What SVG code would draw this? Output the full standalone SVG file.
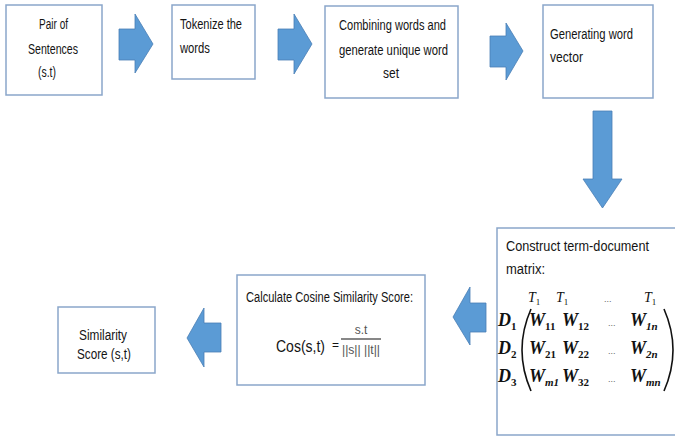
<svg xmlns="http://www.w3.org/2000/svg" width="675" height="437" viewBox="0 0 675 437">
<style>
.box{fill:#fff;stroke:#8AA6CA;stroke-width:1.5}
.t{font-family:"Liberation Sans",Arial,sans-serif;font-size:14px;fill:#141414}
.arr{fill:#5B9BD5;stroke:#4A7FB5;stroke-width:0.8}
.mw{font-family:"Liberation Serif","Times New Roman",serif;font-style:italic;font-weight:bold;font-size:18px;fill:#111}
.sub{font-size:11px;font-style:normal}
.subi{font-size:11px}
.th{font-family:"Liberation Serif","Times New Roman",serif;font-style:italic;font-size:14px;fill:#111}
.ts{font-size:9px;font-style:normal}
.dots{font-family:"Liberation Sans",Arial,sans-serif;font-size:9px;fill:#666}
.frac{font-family:"Liberation Sans",Arial,sans-serif;font-size:12px;fill:#555}
.paren{fill:none;stroke:#111;stroke-width:1.6}
</style>
<rect width="675" height="437" fill="#fff"/>
<g id="node-pair">
<rect class="box" x="6" y="5" width="96" height="90"/>
<text class="t" x="39" y="29" textLength="29" lengthAdjust="spacingAndGlyphs">Pair of</text>
<text class="t" x="28" y="54" textLength="50" lengthAdjust="spacingAndGlyphs">Sentences</text>
<text class="t" x="38" y="77" textLength="18" lengthAdjust="spacingAndGlyphs">(s.t)</text>
</g>
<g id="node-tokenize">
<rect class="box" x="172" y="5" width="83" height="74"/>
<text class="t" x="180" y="29" textLength="62" lengthAdjust="spacingAndGlyphs">Tokenize the</text>
<text class="t" x="180" y="53" textLength="30" lengthAdjust="spacingAndGlyphs">words</text>
</g>
<g id="node-combine">
<rect class="box" x="325" y="6" width="133" height="92"/>
<text class="t" x="339" y="30" textLength="107" lengthAdjust="spacingAndGlyphs">Combining words and</text>
<text class="t" x="339" y="55" textLength="109" lengthAdjust="spacingAndGlyphs">generate unique word</text>
<text class="t" x="383" y="78" textLength="16" lengthAdjust="spacingAndGlyphs">set</text>
</g>
<g id="node-vector">
<rect class="box" x="543" y="5" width="110" height="93"/>
<text class="t" x="550" y="39" textLength="83" lengthAdjust="spacingAndGlyphs">Generating word</text>
<text class="t" x="550" y="62" textLength="33" lengthAdjust="spacingAndGlyphs">vector</text>
</g>
<g id="node-matrix">
<rect class="box" x="497" y="228" width="190" height="207"/>
<text class="t" x="506" y="251" textLength="143" lengthAdjust="spacingAndGlyphs">Construct term-document</text>
<text class="t" x="506" y="274" textLength="39" lengthAdjust="spacingAndGlyphs">matrix:</text>
<text class="th" x="528" y="302">T<tspan class="ts" dy="3">1</tspan></text>
<text class="th" x="556" y="302">T<tspan class="ts" dy="3">1</tspan></text>
<text class="dots" x="604" y="302">...</text>
<text class="th" x="644" y="302">T<tspan class="ts" dy="3">1</tspan></text>
<text class="mw" x="498" y="326">D<tspan class="sub" dy="4">1</tspan></text>
<text class="mw" x="498" y="354">D<tspan class="sub" dy="4">2</tspan></text>
<text class="mw" x="498" y="382">D<tspan class="sub" dy="4">3</tspan></text>
<path class="paren" d="M531,309 Q513,350 531,391"/>
<path class="paren" d="M664,309 Q682,350 664,391"/>
<text class="mw" x="529" y="326">W<tspan class="sub" dy="4">11</tspan></text>
<text class="mw" x="562" y="326">W<tspan class="sub" dy="4">12</tspan></text>
<text class="dots" x="608" y="326">...</text>
<text class="mw" x="630" y="326">W<tspan class="subi" dy="4">1n</tspan></text>
<text class="mw" x="529" y="354">W<tspan class="sub" dy="4">21</tspan></text>
<text class="mw" x="562" y="354">W<tspan class="sub" dy="4">22</tspan></text>
<text class="dots" x="608" y="354">...</text>
<text class="mw" x="630" y="354">W<tspan class="subi" dy="4">2n</tspan></text>
<text class="mw" x="529" y="382">W<tspan class="subi" dy="4">m1</tspan></text>
<text class="mw" x="562" y="382">W<tspan class="sub" dy="4">32</tspan></text>
<text class="dots" x="608" y="382">...</text>
<text class="mw" x="630" y="382">W<tspan class="subi" dy="4">mn</tspan></text>
</g>
<g id="node-cosine">
<rect class="box" x="237" y="275" width="188" height="110"/>
<text class="t" x="246" y="302" textLength="167" lengthAdjust="spacingAndGlyphs">Calculate Cosine Similarity Score:</text>
<text class="t" x="276" y="352" style="font-size:16px" textLength="49" lengthAdjust="spacingAndGlyphs">Cos(s,t)</text>
<text class="t" x="332" y="349" style="font-size:12px">=</text>
<text class="frac" x="361" y="334" text-anchor="middle">s.t</text>
<line x1="341" y1="339" x2="381" y2="339" stroke="#111" stroke-width="1.2"/>
<text class="frac" x="361" y="354" text-anchor="middle" textLength="38" lengthAdjust="spacingAndGlyphs">||s|| ||t||</text>
</g>
<g id="node-score">
<rect class="box" x="58" y="307" width="97" height="66"/>
<text class="t" x="79" y="340" textLength="48" lengthAdjust="spacingAndGlyphs">Similarity</text>
<text class="t" x="77" y="359" textLength="54" lengthAdjust="spacingAndGlyphs">Score (s,t)</text>
</g>
<g id="connectors">
<polygon class="arr" points="119,29 135,29 135,14 153,44 135,73 135,60 119,60"/>
<polygon class="arr" points="278,29 294,29 294,14 312,44 294,74 294,60 278,60"/>
<polygon class="arr" points="490,36 506,36 506,23 523,51 506,80 506,67 490,67"/>
<polygon class="arr" points="593,111 612,111 612,179 622,179 602.5,208 583,179 593,179"/>
<polygon class="arr" points="486,303 470,303 470,287 453,317 470,345 470,332 486,332"/>
<polygon class="arr" points="221,323 204,323 204,308 187,338 204,367 204,352 221,352"/>
</g>
</svg>
